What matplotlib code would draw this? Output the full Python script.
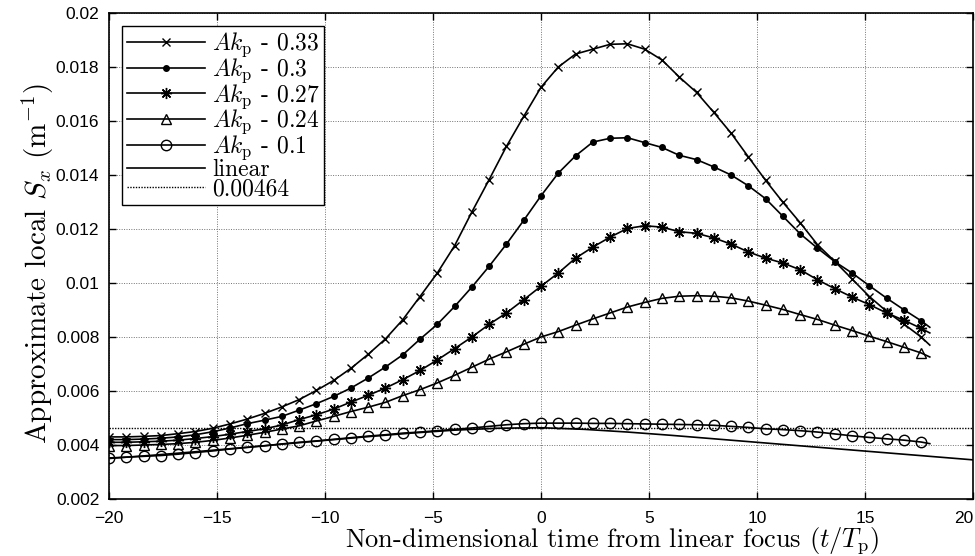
import numpy as np
import matplotlib
matplotlib.use('Agg')
from matplotlib import pyplot as plt

plt.rcParams['mathtext.fontset'] = 'cm'
plt.rcParams['axes.unicode_minus'] = True

# sample times (t/Tp): markers every 0.8, last line point at 18.0
t = np.append(np.arange(48) * 0.8 - 20, 18.0)

s_033 = [4.30, 4.30, 4.32, 4.35, 4.42, 4.50, 4.62, 4.78, 4.96, 5.17,
         5.41, 5.68, 6.02, 6.39, 6.84, 7.36, 7.93, 8.64, 9.50, 10.37,
         11.38, 12.63, 13.83, 15.06, 16.17, 17.25, 18.00, 18.48, 18.66, 18.84,
         18.86, 18.66, 18.26, 17.63, 17.06, 16.32, 15.55, 14.67, 13.80, 12.99,
         12.23, 11.42, 10.80, 10.15, 9.50, 8.95, 8.48, 8.00, 7.70]
s_030 = [4.20, 4.20, 4.22, 4.25, 4.30, 4.38, 4.49, 4.63, 4.79, 4.92,
         5.06, 5.29, 5.53, 5.80, 6.11, 6.48, 6.89, 7.34, 7.92, 8.47,
         9.13, 9.85, 10.62, 11.44, 12.32, 13.23, 14.07, 14.71, 15.22, 15.36,
         15.38, 15.20, 15.02, 14.73, 14.57, 14.30, 14.00, 13.60, 13.12, 12.47,
         11.82, 11.29, 10.79, 10.37, 9.90, 9.44, 9.01, 8.60, 8.36]
s_027 = [4.10, 4.10, 4.12, 4.14, 4.18, 4.24, 4.31, 4.40, 4.50, 4.60,
         4.74, 4.94, 5.12, 5.33, 5.59, 5.84, 6.11, 6.42, 6.76, 7.15,
         7.57, 8.00, 8.47, 8.89, 9.38, 9.88, 10.37, 10.92, 11.33, 11.70,
         12.02, 12.12, 12.07, 11.90, 11.84, 11.67, 11.44, 11.15, 10.92, 10.74,
         10.49, 10.12, 9.79, 9.48, 9.20, 8.89, 8.62, 8.32, 8.15]
s_024 = [3.98, 3.98, 4.00, 4.02, 4.05, 4.10, 4.17, 4.26, 4.36, 4.47,
         4.59, 4.71, 4.89, 5.06, 5.24, 5.40, 5.58, 5.83, 6.05, 6.30,
         6.58, 6.88, 7.18, 7.45, 7.73, 8.00, 8.20, 8.44, 8.67, 8.89,
         9.11, 9.28, 9.43, 9.51, 9.53, 9.51, 9.45, 9.33, 9.18, 9.02,
         8.83, 8.65, 8.44, 8.24, 8.03, 7.83, 7.62, 7.41, 7.26]
s_010 = [3.52, 3.55, 3.58, 3.61, 3.66, 3.72, 3.78, 3.85, 3.91, 3.97,
         4.04, 4.10, 4.15, 4.21, 4.27, 4.33, 4.38, 4.44, 4.48, 4.53,
         4.58, 4.63, 4.69, 4.75, 4.79, 4.81, 4.81, 4.81, 4.80, 4.80,
         4.79, 4.78, 4.77, 4.76, 4.75, 4.73, 4.69, 4.65, 4.60, 4.57,
         4.53, 4.48, 4.41, 4.34, 4.28, 4.23, 4.18, 4.11, 4.05]

t_lin = [-20, -18, -16, -14, -12, -10, -8, -6, -4, -2, 0,
         2, 4, 6, 8, 10, 12, 14, 16, 18, 20]
s_lin = [3.50, 3.62, 3.75, 3.89, 4.03, 4.17, 4.31, 4.44, 4.55, 4.62, 4.64,
         4.58, 4.48, 4.36, 4.23, 4.10, 3.97, 3.84, 3.71, 3.58, 3.45]
level = 0.00464

series = [(s_033, '0.33', dict(marker='x', ms=6, mew=1.0)),
          (s_030, '0.3', dict(marker='o', ms=4, mfc='k')),
          (s_027, '0.27', dict(marker=(8, 2, 0), ms=8, mew=1.0)),
          (s_024, '0.24', dict(marker='^', ms=7, mfc='none', mew=1.0)),
          (s_010, '0.1', dict(marker='o', ms=7.5, mfc='none', mew=1.0))]

fig = plt.figure(figsize=(9.75, 5.56), dpi=100)
ax = fig.add_axes([109 / 975, 1 - 499 / 556, 864 / 975, 486 / 556])

for vals, ak, style in series:
    ax.plot(t, np.array(vals) / 1000, color='k', lw=1.2, mec='k',
            markevery=slice(0, 48), label=r'$Ak_{\rm p}$ - ' + ak, **style)
ax.plot(t_lin, np.array(s_lin) / 1000, color='k', lw=1.2, label='linear')
ax.axhline(level, color='k', lw=1.0, ls=(0, (1, 1)), label='%g' % level)

ax.set_xlim(-20, 20)
ax.set_ylim(0.002, 0.02)
ax.set_xticks(np.arange(-20, 21, 5))
ax.set_yticks(np.arange(0.002, 0.0201, 0.002))
ax.set_yticklabels(['0.002', '0.004', '0.006', '0.008', '0.01', '0.012',
                    '0.014', '0.016', '0.018', '0.02'])
ax.grid(True, color='0.45', ls=(0, (1, 1.5)), lw=0.7)
ax.set_axisbelow(True)
ax.tick_params(direction='in', length=5, width=1.0, top=True, right=True,
               labelsize=12.5, colors='k')
ax.tick_params(axis='x', pad=8.3)
ax.tick_params(axis='y', pad=7)
for lab in ax.get_xticklabels() + ax.get_yticklabels():
    lab.set_fontfamily('Liberation Sans')
ax.get_xticklabels()[-1].set_horizontalalignment('right')
for sp in ax.spines.values():
    sp.set_linewidth(1.2)

ax.set_xlabel(r'Non-dimensional time from linear focus ($t/T_{\rm p}$)',
              fontfamily='cmr10', fontsize=19)
ax.set_ylabel(r'Approximate local $S_x$ (m$^{-1}$)',
              fontfamily='cmr10', fontsize=21)
ax.xaxis.set_label_coords(0.582, -0.053)
ax.yaxis.set_label_coords(-0.061, 0.485)

leg = ax.legend(loc='upper left', bbox_to_anchor=(13 / 864, 1 - 13 / 486),
                borderaxespad=0, fancybox=False, framealpha=1,
                edgecolor='k', numpoints=1, handlelength=3.3,
                handletextpad=0.3, labelspacing=-0.12, borderpad=0.2,
                prop={'family': 'cmr10', 'size': 17})
leg.get_frame().set_linewidth(1.0)

fig.savefig('out.png', dpi=100)
